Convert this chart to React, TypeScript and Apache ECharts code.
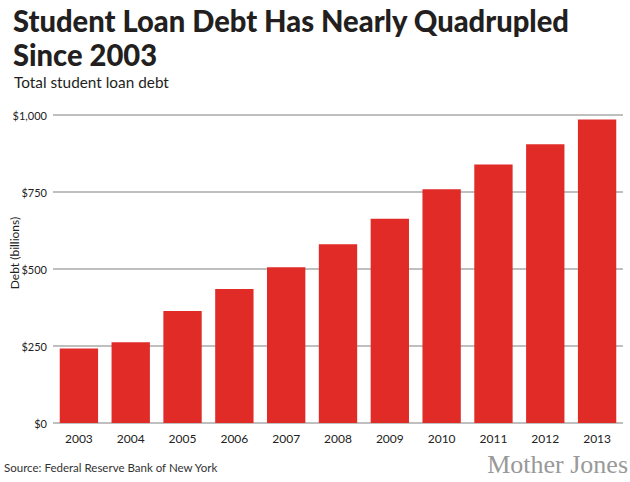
import React, { useEffect, useRef } from "react";
import * as echarts from "echarts";

const years = ["2003", "2004", "2005", "2006", "2007", "2008", "2009", "2010", "2011", "2012", "2013"];
const debt = [242, 262, 364, 435, 506, 580, 663, 759, 839, 905, 985];
const yTicks = [0, 250, 500, 750, 1000];

const titleLine1 = "Student Loan Debt Has Nearly Quadrupled";
const titleLine2 = "Since 2003";
const subtitle = "Total student loan debt";
const yAxisName = "Debt (billions)";
const source = "Source: Federal Reserve Bank of New York";
const logo = "Mother Jones";

export default function App() {
  const ref = useRef<HTMLDivElement>(null);
  useEffect(() => {
    if (!ref.current) return;
    const chart = echarts.init(ref.current, null, { renderer: "svg" });
    chart.setOption({
      animation: false,
      backgroundColor: "#ffffff",
      grid: { left: 53, right: 7, top: 115, bottom: 59, containLabel: false },
      xAxis: {
        type: "category",
        data: years,
        axisLine: { show: false },
        axisTick: { show: false },
        axisLabel: { color: "#222", fontSize: 12, fontFamily: "Lato", margin: 9 },
      },
      yAxis: {
        type: "value",
        min: yTicks[0],
        max: yTicks[yTicks.length - 1],
        interval: 250,
        axisLine: { show: false },
        axisTick: { show: false },
        axisLabel: {
          color: "#222",
          fontSize: 11,
          fontFamily: "Lato",
          margin: 6,
          formatter: (v: number) => "$" + v.toLocaleString("en-US"),
        },
        splitLine: { lineStyle: { color: "#aaaaaa", width: 1.5 } },
      },
      series: [
        {
          type: "bar",
          data: debt,
          barCategoryGap: "26%",
          itemStyle: { color: "#e02b27" },
          z: 3,
        },
      ],
      graphic: [
        {
          type: "text",
          left: 13,
          top: 4,
          scaleX: 0.94,
          style: { text: titleLine1, font: "900 31px Lato", fill: "#231f20" },
        },
        {
          type: "text",
          left: 13,
          top: 38,
          scaleX: 0.94,
          style: { text: titleLine2, font: "900 31px Lato", fill: "#231f20" },
        },
        {
          type: "text",
          left: 14,
          top: 74,
          scaleX: 0.96,
          style: { text: subtitle, font: "16px Lato", fill: "#231f20" },
        },
        {
          type: "text",
          x: 14,
          y: 253,
          rotation: Math.PI / 2,
          style: { text: yAxisName, font: "12px Lato", fill: "#222", align: "center", verticalAlign: "middle" },
        },
        {
          type: "text",
          left: 4,
          top: 461,
          scaleX: 0.96,
          style: { text: source, font: "12px Lato", fill: "#333" },
        },
        {
          type: "text",
          right: 2,
          top: 451,
          style: { text: logo, font: "26px 'Liberation Serif'", fill: "#999999" },
        },
      ],
    });
    return () => chart.dispose();
  }, []);
  return <div ref={ref} style={{ position: "fixed", left: 0, top: 0, width: 630, height: 482 }} />;
}
